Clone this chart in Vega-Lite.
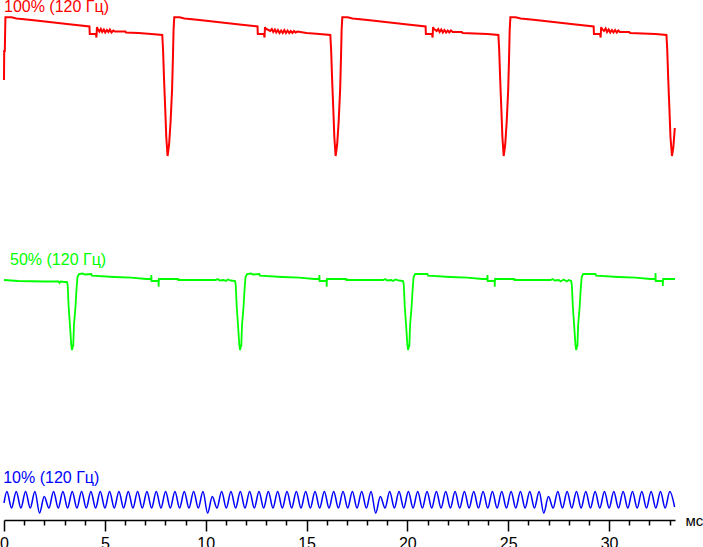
{
  "$schema": "https://vega.github.io/schema/vega-lite/v6.json",
  "autosize": {"type": "none"},
  "width": 671,
  "height": 520,
  "padding": {"left": 4, "top": 0, "right": 28, "bottom": 27},
  "background": "white",
  "config": {"view": {"stroke": null}},
  "datasets": {
    "red": [
      {"t":0,"v":439},{"t":0.01,"v":468},{"t":0.04,"v":468},{"t":0.07,"v":501.7},
      {"t":0.372,"v":501.7},{"t":0.619,"v":500.5},{"t":1.363,"v":499},{"t":2.354,"v":496.7},{"t":3.345,"v":494.5},{"t":4.237,"v":492.5},{"t":4.252,"v":485},{"t":4.559,"v":485},{"t":4.584,"v":481.5},{"t":4.609,"v":492},{"t":4.633,"v":490.5},{"t":4.73,"v":487.5},{"t":4.8,"v":490},{"t":4.87,"v":487},{"t":4.95,"v":489.5},{"t":5.02,"v":486.5},{"t":5.1,"v":489},{"t":5.18,"v":487},{"t":5.25,"v":489.5},{"t":5.33,"v":486.5},{"t":5.42,"v":488.5},{"t":5.5,"v":487.5},{"t":6.02,"v":487.5},{"t":6.05,"v":486.5},{"t":6.665,"v":486},{"t":7.309,"v":485},
      {"t":7.847,"v":484},{"t":7.887,"v":469},{"t":7.937,"v":439},{"t":7.996,"v":409},{"t":8.046,"v":382},{"t":8.11,"v":363},{"t":8.184,"v":374},{"t":8.259,"v":397},{"t":8.333,"v":429},{"t":8.373,"v":459},{"t":8.407,"v":489},{"t":8.442,"v":501.7},{"t":8.705,"v":501.7},{"t":8.952,"v":500.5},{"t":9.696,"v":499},{"t":10.687,"v":496.7},{"t":11.678,"v":494.5},{"t":12.57,"v":492.5},{"t":12.585,"v":485},{"t":12.892,"v":485},{"t":12.917,"v":481.5},{"t":12.942,"v":492},{"t":12.966,"v":490.5},{"t":13.2,"v":488},{"t":13.28,"v":490},{"t":13.35,"v":487},{"t":13.43,"v":489.5},{"t":13.5,"v":486.5},{"t":13.58,"v":489},{"t":13.66,"v":486},{"t":13.74,"v":488.5},{"t":13.82,"v":486},{"t":13.9,"v":489},{"t":13.98,"v":486},{"t":14.06,"v":488.5},{"t":14.14,"v":486},{"t":14.22,"v":488},{"t":14.3,"v":486},{"t":14.38,"v":488},{"t":14.46,"v":486.5},{"t":14.55,"v":487.5},{"t":14.998,"v":486},{"t":15.642,"v":485},
      {"t":16.18,"v":484},{"t":16.22,"v":469},{"t":16.27,"v":439},{"t":16.329,"v":409},{"t":16.379,"v":382},{"t":16.443,"v":363},{"t":16.517,"v":374},{"t":16.592,"v":397},{"t":16.666,"v":429},{"t":16.706,"v":459},{"t":16.74,"v":489},{"t":16.775,"v":501.7},{"t":17.038,"v":501.7},{"t":17.285,"v":500.5},{"t":18.029,"v":499},{"t":19.02,"v":496.7},{"t":20.011,"v":494.5},{"t":20.903,"v":492.5},{"t":20.918,"v":485},{"t":21.225,"v":485},{"t":21.25,"v":481.5},{"t":21.275,"v":492},{"t":21.299,"v":490.5},{"t":21.45,"v":488},{"t":21.53,"v":490},{"t":21.6,"v":487},{"t":21.68,"v":489.5},{"t":21.76,"v":486.5},{"t":21.84,"v":489},{"t":21.92,"v":486.5},{"t":22.0,"v":488.5},{"t":22.08,"v":486.5},{"t":22.16,"v":488.5},{"t":22.25,"v":487},{"t":22.7,"v":487},{"t":22.74,"v":486},{"t":23.331,"v":485.5},{"t":23.975,"v":485},
      {"t":24.513,"v":484},{"t":24.553,"v":469},{"t":24.603,"v":439},{"t":24.662,"v":409},{"t":24.712,"v":382},{"t":24.776,"v":363},{"t":24.85,"v":374},{"t":24.925,"v":397},{"t":24.999,"v":429},{"t":25.039,"v":459},{"t":25.073,"v":489},{"t":25.108,"v":501.7},{"t":25.371,"v":501.7},{"t":25.618,"v":500.5},{"t":26.362,"v":499},{"t":27.353,"v":496.7},{"t":28.344,"v":494.5},{"t":29.236,"v":492.5},{"t":29.251,"v":485},{"t":29.558,"v":485},{"t":29.583,"v":481.5},{"t":29.608,"v":492},{"t":29.632,"v":490.5},{"t":29.75,"v":488},{"t":29.83,"v":490.5},{"t":29.9,"v":487},{"t":29.98,"v":489.5},{"t":30.06,"v":486.5},{"t":30.14,"v":489},{"t":30.22,"v":486.5},{"t":30.3,"v":489},{"t":30.38,"v":486.5},{"t":30.46,"v":488.5},{"t":30.54,"v":487},{"t":31.0,"v":487},{"t":31.04,"v":486},{"t":31.664,"v":485.5},{"t":32.308,"v":485},
      {"t":32.846,"v":484},{"t":32.886,"v":469},{"t":32.936,"v":439},{"t":32.995,"v":409},{"t":33.045,"v":382},{"t":33.12,"v":363},{"t":33.19,"v":372},{"t":33.26,"v":391}
    ],
    "green": [
      {"t":0,"v":239},{"t":0.7,"v":238},{"t":2.0,"v":237.5},{"t":2.7,"v":237.5},{"t":2.75,"v":236},{"t":2.8,"v":237.5},{"t":3.0,"v":237},{"t":3.122,"v":237},
      {"t":3.157,"v":234},{"t":3.206,"v":212.3},{"t":3.286,"v":189},{"t":3.335,"v":174},{"t":3.37,"v":169},{"t":3.434,"v":174},{"t":3.469,"v":194},{"t":3.543,"v":212},{"t":3.593,"v":229},{"t":3.643,"v":242},{"t":3.717,"v":245},{"t":3.9,"v":245.5},{"t":4.0,"v":244.5},{"t":4.326,"v":245},{"t":4.361,"v":243.3},{"t":5.466,"v":242},{"t":6.309,"v":241.3},{"t":7.052,"v":240},{"t":7.3,"v":240},{"t":7.305,"v":244},{"t":7.315,"v":238},{"t":7.661,"v":238},{"t":7.666,"v":232.3},{"t":7.681,"v":240},{"t":8.638,"v":240},{"t":8.643,"v":239},{"t":10.5,"v":239},{"t":10.6,"v":240},{"t":10.7,"v":238.5},{"t":10.9,"v":239},{"t":11.0,"v":238},{"t":11.1,"v":239.5},{"t":11.25,"v":238.5},
      {"t":11.455,"v":238},{"t":11.49,"v":234},{"t":11.539,"v":212.3},{"t":11.619,"v":189},{"t":11.668,"v":174},{"t":11.703,"v":169},{"t":11.767,"v":174},{"t":11.802,"v":194},{"t":11.876,"v":212},{"t":11.926,"v":229},{"t":11.976,"v":242},{"t":12.05,"v":245},{"t":12.25,"v":245.5},{"t":12.35,"v":244.5},{"t":12.659,"v":245},{"t":12.694,"v":243.3},{"t":13.799,"v":242},{"t":14.642,"v":241.3},{"t":15.385,"v":240},{"t":15.633,"v":240},{"t":15.638,"v":244},{"t":15.648,"v":238},{"t":15.994,"v":238},{"t":15.999,"v":232.3},{"t":16.014,"v":240},{"t":16.971,"v":240},{"t":16.976,"v":239},{"t":18.8,"v":239},{"t":18.9,"v":240},{"t":19.0,"v":238.5},{"t":19.2,"v":239},{"t":19.3,"v":238},{"t":19.4,"v":239.5},{"t":19.6,"v":238.5},
      {"t":19.788,"v":238},{"t":19.823,"v":234},{"t":19.872,"v":212.3},{"t":19.952,"v":189},{"t":20.001,"v":174},{"t":20.036,"v":169},{"t":20.1,"v":174},{"t":20.135,"v":194},{"t":20.209,"v":212},{"t":20.259,"v":229},{"t":20.309,"v":242},{"t":20.383,"v":245},{"t":20.992,"v":245},{"t":21.027,"v":243.3},{"t":22.132,"v":242},{"t":22.975,"v":241.3},{"t":23.718,"v":240},{"t":23.966,"v":240},{"t":23.971,"v":244},{"t":23.981,"v":238},{"t":24.327,"v":238},{"t":24.332,"v":232.3},{"t":24.347,"v":240},{"t":25.304,"v":240},{"t":25.309,"v":239},{"t":27.1,"v":239},{"t":27.2,"v":240},{"t":27.3,"v":238.5},{"t":27.5,"v":239},{"t":27.6,"v":237.5},{"t":27.75,"v":239.5},{"t":27.9,"v":237.5},{"t":28.0,"v":239},
      {"t":28.121,"v":238},{"t":28.156,"v":234},{"t":28.205,"v":212.3},{"t":28.285,"v":189},{"t":28.334,"v":174},{"t":28.369,"v":169},{"t":28.433,"v":174},{"t":28.468,"v":194},{"t":28.542,"v":212},{"t":28.592,"v":229},{"t":28.642,"v":242},{"t":28.716,"v":245},{"t":29.325,"v":245},{"t":29.36,"v":243.3},{"t":30.465,"v":242},{"t":31.308,"v":241.3},{"t":32.051,"v":240},{"t":32.299,"v":240},{"t":32.304,"v":246},{"t":32.314,"v":238},{"t":32.66,"v":238},{"t":32.665,"v":233},{"t":32.68,"v":240},{"t":33.27,"v":240}
    ],
    "blue": [
      {"t":0,"v":16},
      {"t":0.143,"v":27.5},{"t":0.375,"v":11},{"t":0.606,"v":27.5},{"t":0.838,"v":11},{"t":1.069,"v":27.5},{"t":1.301,"v":11},{"t":1.532,"v":27.5},{"t":1.763,"v":6},{"t":1.995,"v":22.5},{"t":2.226,"v":11},{"t":2.458,"v":27.5},{"t":2.689,"v":11},{"t":2.921,"v":27.5},{"t":3.152,"v":11},{"t":3.384,"v":27.5},{"t":3.615,"v":11},{"t":3.847,"v":27.5},{"t":4.078,"v":11},{"t":4.31,"v":27.5},{"t":4.541,"v":11},{"t":4.773,"v":27.5},{"t":5.004,"v":11},{"t":5.236,"v":27.5},{"t":5.467,"v":11},{"t":5.699,"v":27.5},{"t":5.93,"v":11},{"t":6.162,"v":27.5},{"t":6.393,"v":11},{"t":6.624,"v":27.5},{"t":6.856,"v":11},{"t":7.087,"v":27.5},{"t":7.319,"v":11},{"t":7.55,"v":27.5},{"t":7.782,"v":11},{"t":8.013,"v":27.5},{"t":8.245,"v":11},
      {"t":8.476,"v":27.5},{"t":8.707,"v":11},{"t":8.939,"v":27.5},{"t":9.17,"v":11},{"t":9.402,"v":27.5},{"t":9.633,"v":11},{"t":9.865,"v":27.5},{"t":10.096,"v":6},{"t":10.328,"v":22.5},{"t":10.559,"v":11},{"t":10.791,"v":27.5},{"t":11.022,"v":11},{"t":11.254,"v":27.5},{"t":11.485,"v":11},{"t":11.717,"v":27.5},{"t":11.948,"v":11},{"t":12.18,"v":27.5},{"t":12.411,"v":11},{"t":12.643,"v":27.5},{"t":12.874,"v":11},{"t":13.106,"v":27.5},{"t":13.337,"v":11},{"t":13.569,"v":27.5},{"t":13.8,"v":11},{"t":14.032,"v":27.5},{"t":14.263,"v":11},{"t":14.495,"v":27.5},{"t":14.726,"v":11},{"t":14.958,"v":27.5},{"t":15.189,"v":11},{"t":15.421,"v":27.5},{"t":15.652,"v":11},{"t":15.884,"v":27.5},{"t":16.115,"v":11},{"t":16.347,"v":27.5},{"t":16.578,"v":11},
      {"t":16.81,"v":27.5},{"t":17.041,"v":11},{"t":17.273,"v":27.5},{"t":17.504,"v":11},{"t":17.736,"v":27.5},{"t":17.967,"v":11},{"t":18.199,"v":27.5},{"t":18.43,"v":6},{"t":18.661,"v":22.5},{"t":18.893,"v":11},{"t":19.124,"v":27.5},{"t":19.356,"v":11},{"t":19.587,"v":27.5},{"t":19.819,"v":11},{"t":20.05,"v":27.5},{"t":20.282,"v":11},{"t":20.513,"v":27.5},{"t":20.744,"v":11},{"t":20.976,"v":27.5},{"t":21.207,"v":11},{"t":21.439,"v":27.5},{"t":21.67,"v":11},{"t":21.902,"v":27.5},{"t":22.133,"v":11},{"t":22.365,"v":27.5},{"t":22.596,"v":11},{"t":22.828,"v":27.5},{"t":23.059,"v":11},{"t":23.291,"v":27.5},{"t":23.522,"v":11},{"t":23.754,"v":27.5},{"t":23.985,"v":11},{"t":24.217,"v":27.5},{"t":24.448,"v":11},{"t":24.68,"v":27.5},{"t":24.911,"v":11},
      {"t":25.143,"v":27.5},{"t":25.374,"v":11},{"t":25.606,"v":27.5},{"t":25.837,"v":11},{"t":26.069,"v":27.5},{"t":26.3,"v":11},{"t":26.532,"v":27.5},{"t":26.763,"v":6},{"t":26.995,"v":22.5},{"t":27.226,"v":11},{"t":27.458,"v":27.5},{"t":27.689,"v":11},{"t":27.921,"v":27.5},{"t":28.152,"v":11},{"t":28.384,"v":27.5},{"t":28.615,"v":11},{"t":28.847,"v":27.5},{"t":29.078,"v":11},{"t":29.31,"v":27.5},{"t":29.541,"v":11},{"t":29.773,"v":27.5},{"t":30.004,"v":11},{"t":30.235,"v":27.5},{"t":30.467,"v":11},{"t":30.698,"v":27.5},{"t":30.93,"v":11},{"t":31.161,"v":27.5},{"t":31.393,"v":11},{"t":31.624,"v":27.5},{"t":31.856,"v":11},{"t":32.087,"v":27.5},{"t":32.318,"v":11},{"t":32.55,"v":27.5},{"t":32.781,"v":11},{"t":33.013,"v":27.5},{"t":33.25,"v":12}
    ],
    "labels": [
      {"label":"100% (120 Гц)","t":0,"v":506.7},
      {"label":"50% (120 Гц)","t":0.3,"v":254},
      {"label":"10% (120 Гц)","t":-0.04,"v":36.3}
    ]
  },
  "resolve": {"axis": {"x": "independent"}},
  "layer": [
    {
      "data": {"name": "red"},
      "mark": {"type": "line", "color": "#ff0000", "strokeWidth": 2, "clip": false},
      "encoding": {
        "x": {
          "field": "t", "type": "quantitative",
          "scale": {"domain": [0, 33.27], "nice": false, "zero": false},
          "axis": {
            "orient": "bottom",
            "values": [0, 5, 10, 15, 20, 25, 30],
            "tickSize": 11, "tickColor": "black", "domainColor": "black", "tickWidth": 1.5, "domainWidth": 1.5,
            "labelFont": "Liberation Sans", "labelFontSize": 16, "labelColor": "black",
            "labelPadding": 4, "labelFlush": false, "labelOverlap": false, "grid": false,
            "title": "мс", "titleFont": "Liberation Sans", "titleFontSize": 15, "titleFontWeight": "normal",
            "titleColor": "black", "titleX": 681, "titleY": 5, "titleAlign": "left", "titleBaseline": "alphabetic", "titleAngle": 0
          }
        },
        "y": {"field": "v", "type": "quantitative", "scale": {"domain": [-1, 519], "nice": false, "zero": false}, "axis": null}
      }
    },
    {
      "data": {"name": "green"},
      "mark": {"type": "line", "color": "#00ff00", "strokeWidth": 1.8},
      "encoding": {
        "x": {
          "field": "t", "type": "quantitative",
          "axis": {
            "orient": "bottom",
            "values": [1,2,3,4,6,7,8,9,11,12,13,14,16,17,18,19,21,22,23,24,26,27,28,29,31,32,33],
            "tickSize": 5, "tickColor": "black", "tickWidth": 1.5,
            "domain": false, "labels": false, "grid": false, "title": null
          }
        },
        "y": {"field": "v", "type": "quantitative"}
      }
    },
    {
      "data": {"name": "blue"},
      "mark": {"type": "line", "color": "#0000ff", "strokeWidth": 1.5, "interpolate": "monotone"},
      "encoding": {
        "x": {"field": "t", "type": "quantitative", "axis": null},
        "y": {"field": "v", "type": "quantitative"}
      }
    },
    {
      "data": {"name": "labels"},
      "mark": {"type": "text", "align": "left", "baseline": "alphabetic", "font": "Liberation Sans", "fontSize": 16, "clip": false},
      "encoding": {
        "x": {"field": "t", "type": "quantitative", "axis": null},
        "y": {"field": "v", "type": "quantitative"},
        "text": {"field": "label"},
        "color": {"field": "label", "type": "nominal", "scale": {"domain": ["100% (120 Гц)", "50% (120 Гц)", "10% (120 Гц)"], "range": ["#ff0000", "#00ff00", "#0000ff"]}, "legend": null}
      }
    }
  ]
}
